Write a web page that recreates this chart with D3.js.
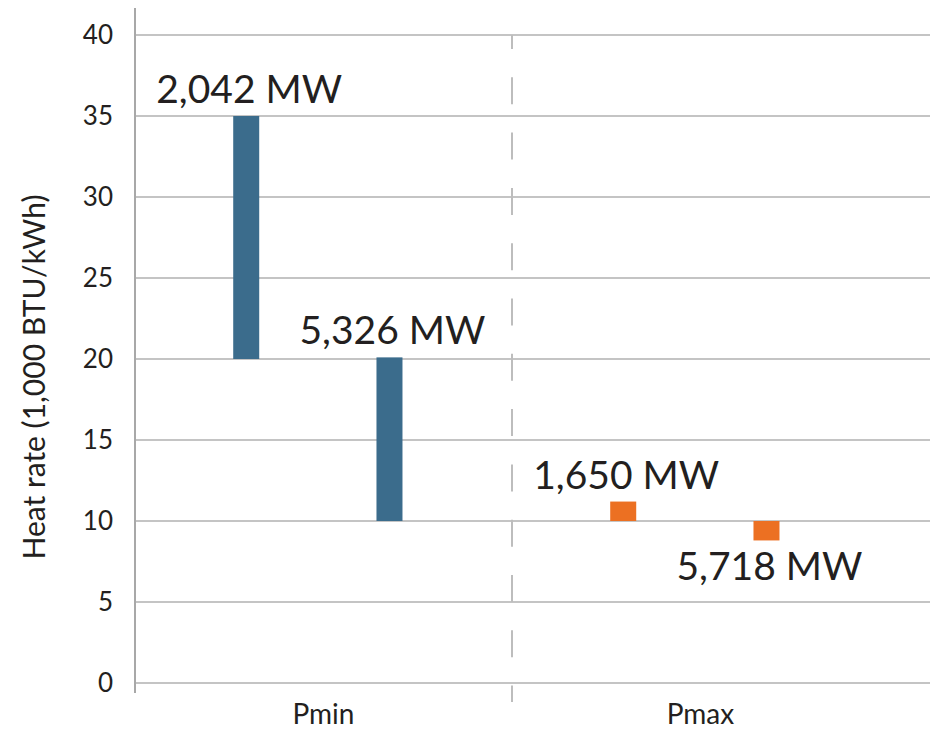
<!DOCTYPE html>
<html>
<head>
<meta charset="utf-8">
<script src="https://cdn.jsdelivr.net/npm/d3@7"></script>
<style>
  body { margin: 0; background: #fff; }
  text { font-family: Lato, "Open Sans", sans-serif; fill: #231f20; }
</style>
</head>
<body>
<script>
var width = 930, height = 731;

// data
var categories = ["Pmin", "Pmax"];
var barLow    = [[20, 10], [10, 8.8]];
var barHigh   = [[35, 20.1], [11.2, 10]];
var barLabels = [["2,042 MW", "5,326 MW"], ["1,650 MW", "5,718 MW"]];
var labelBelow = [[false, false], [false, true]];
var yTicks = [0, 5, 10, 15, 20, 25, 30, 35, 40];

var plotLeft = 135, plotRight = 889, plotTop = 35, plotBottom = 683;
var barW = 26;

var svg = d3.select("body").append("svg")
  .attr("width", width)
  .attr("height", height);

var y = d3.scaleLinear().domain([0, 40]).range([plotBottom, plotTop]);
var x = d3.scaleBand().domain(categories).range([plotLeft, plotRight]);
var inner = d3.scalePoint().domain([0, 1])
  .range([x.bandwidth() * 0.295, x.bandwidth() * 0.675]);

// gridlines
svg.append("g")
  .selectAll("line")
  .data(yTicks)
  .enter().append("line")
    .attr("x1", plotLeft)
    .attr("x2", width)
    .attr("y1", function(d) { return y(d); })
    .attr("y2", function(d) { return y(d); })
    .attr("stroke", "#c4c4c4")
    .attr("stroke-width", 2);

// y axis line
svg.append("line")
  .attr("x1", plotLeft).attr("x2", plotLeft)
  .attr("y1", 8).attr("y2", plotBottom + 10)
  .attr("stroke", "#a8a8a8")
  .attr("stroke-width", 2);

// category separator
svg.append("line")
  .attr("x1", x("Pmax")).attr("x2", x("Pmax"))
  .attr("y1", plotTop).attr("y2", plotBottom + 19)
  .attr("stroke", "#bdbdbd")
  .attr("stroke-width", 2)
  .attr("stroke-dasharray", "27,28.3")
  .attr("stroke-dashoffset", 13);

// tick labels
svg.append("g")
  .selectAll("text")
  .data(yTicks)
  .enter().append("text")
    .attr("x", 113)
    .attr("y", function(d) { return y(d); })
    .attr("dy", "0.36em")
    .attr("text-anchor", "end")
    .style("font-size", "26px")
    .text(function(d) { return d; });

// y title
svg.append("text")
  .attr("transform", "translate(45," + 377 + ") rotate(-90)")
  .attr("text-anchor", "middle")
  .style("font-size", "30px")
  .text("Heat rate (1,000 BTU/kWh)");

// category labels
svg.append("g")
  .selectAll("text")
  .data(categories)
  .enter().append("text")
    .attr("x", function(d) { return x(d) + x.bandwidth() / 2; })
    .attr("y", 724)
    .attr("text-anchor", "middle")
    .style("font-size", "28px")
    .text(function(d) { return d; });

// bars
var bars = [];
categories.forEach(function(c, ci) {
  [0, 1].forEach(function(si) {
    bars.push({cat: c, s: si, lo: barLow[ci][si], hi: barHigh[ci][si],
               label: barLabels[ci][si], below: labelBelow[ci][si]});
  });
});

var colors = { "Pmin": "#3b6c8c", "Pmax": "#ec7022" };

var g = svg.append("g").selectAll("g")
  .data(bars)
  .enter().append("g");

g.append("rect")
  .attr("x", function(d) { return x(d.cat) + inner(d.s) - barW / 2; })
  .attr("y", function(d) { return y(d.hi); })
  .attr("width", barW)
  .attr("height", function(d) { return y(d.lo) - y(d.hi); })
  .attr("fill", function(d) { return colors[d.cat]; });

g.append("text")
  .attr("x", function(d) { return x(d.cat) + inner(d.s) + 3; })
  .attr("y", function(d) { return d.below ? y(d.lo) + 40 : y(d.hi) - 13; })
  .attr("text-anchor", "middle")
  .style("font-size", "39px")
  .text(function(d) { return d.label; });
</script>
</body>
</html>
